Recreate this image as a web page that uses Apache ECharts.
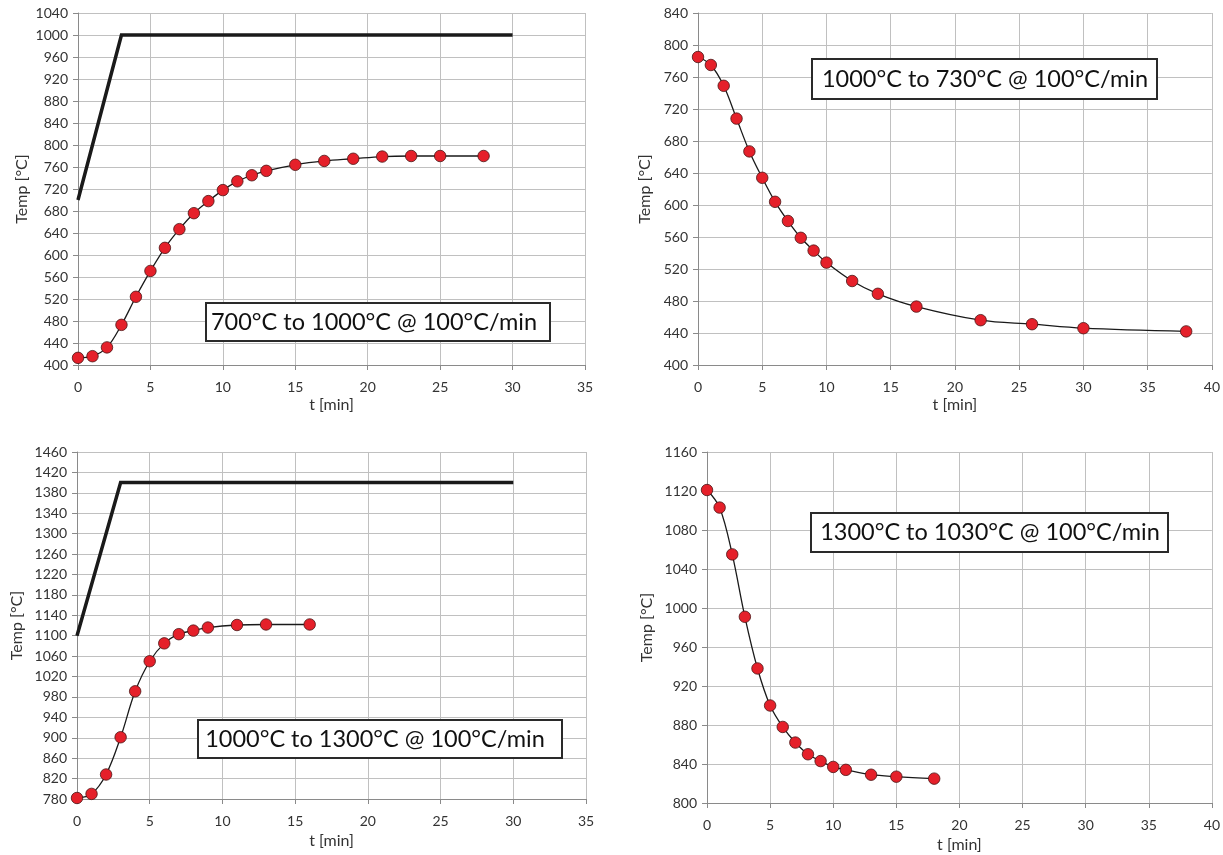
<!DOCTYPE html>
<html>
<head>
<meta charset="utf-8">
<script src="https://cdn.jsdelivr.net/npm/echarts@6/dist/echarts.min.js"></script>
<style>
  html, body { margin: 0; padding: 0; background: #fff; }
  #chart { width: 1223px; height: 855px; }
</style>
</head>
<body>
<div id="chart"></div>
<script>
// Heating 700 -> 1000 °C
const heatA_time = [0, 1, 2, 3, 4, 5, 6, 7, 8, 9, 10, 11, 12, 13, 15, 17, 19, 21, 23, 25, 28];
const heatA_temp = [413, 416, 432, 473, 524, 571, 613, 647, 676, 698, 718, 734, 745, 753, 764, 771, 775, 779, 780, 780, 780];
const heatA_setTime = [0, 3, 30];
const heatA_setTemp = [700, 1000, 1000];

// Cooling 1000 -> 730 °C
const coolA_time = [0, 1, 2, 3, 4, 5, 6, 7, 8, 9, 10, 12, 14, 17, 22, 26, 30, 38];
const coolA_temp = [785, 775, 749, 708, 667, 634, 604, 580, 559, 543, 528, 505, 489, 473, 456, 451, 446, 442];

// Heating 1000 -> 1300 °C
const heatB_time = [0, 1, 2, 3, 4, 5, 6, 7, 8, 9, 11, 13, 16];
const heatB_temp = [782, 790, 828, 901, 991, 1050, 1085, 1103, 1110, 1116, 1121, 1122, 1122];
const heatB_setTime = [0, 3, 30];
const heatB_setTemp = [1100, 1400, 1400];

// Cooling 1300 -> 1030 °C
const coolB_time = [0, 1, 2, 3, 4, 5, 6, 7, 8, 9, 10, 11, 13, 15, 18];
const coolB_temp = [1121, 1103, 1055, 991, 938, 900, 878, 862, 850, 843, 837, 834, 829, 827, 825];

// Axis ranges
const yRanges = [[400, 1040], [400, 840], [780, 1460], [800, 1160]];
const xRanges = [[0, 35], [0, 40], [0, 35], [0, 40]];
const yStep = 40;
const xStep = 5;

const labels = [
  '700°C to 1000°C @ 100°C/min',
  '1000°C to 730°C @ 100°C/min',
  '1000°C to 1300°C @ 100°C/min',
  '1300°C to 1030°C @ 100°C/min'
];

const FONT = 'Lato, "Open Sans", sans-serif';
const pairs = (xs, ys) => xs.map((x, i) => [x, ys[i]]);
const plain = v => String(v);

const grids = [
  { left: 78,  top: 13,  width: 507, height: 352 },
  { left: 698, top: 13,  width: 515, height: 352 },
  { left: 77,  top: 452, width: 509, height: 347 },
  { left: 707, top: 452, width: 505, height: 351 }
];
const yNameGap = [48, 45, 52, 52];
const xNameGap = [32, 32, 34, 34];

const axisLineStyle = { color: '#8a8a8a', width: 1 };
const gridLineStyle = { color: '#c0c0c0', width: 1 };

const xAxes = xRanges.map((r, i) => ({
  type: 'value', gridIndex: i, min: r[0], max: r[1], interval: xStep,
  name: 't [min]', nameLocation: 'middle', nameGap: xNameGap[i],
  nameTextStyle: { fontFamily: FONT, fontSize: 16, color: '#333' },
  axisLine: { show: true, onZero: false, lineStyle: axisLineStyle },
  axisTick: { show: true, length: 5, lineStyle: axisLineStyle },
  axisLabel: { fontFamily: FONT, fontSize: 14, color: '#333', margin: 15, formatter: plain },
  splitLine: { show: true, lineStyle: gridLineStyle }
}));

const yAxes = yRanges.map((r, i) => ({
  type: 'value', gridIndex: i, min: r[0], max: r[1], interval: yStep,
  name: 'Temp [°C]', nameLocation: 'middle', nameGap: yNameGap[i], nameRotate: 90,
  nameTextStyle: { fontFamily: FONT, fontSize: 16, color: '#333' },
  axisLine: { show: true, onZero: false, lineStyle: axisLineStyle },
  axisTick: { show: true, length: 5, lineStyle: axisLineStyle },
  axisLabel: { fontFamily: FONT, fontSize: 14, color: '#333', margin: 10, formatter: plain },
  splitLine: { show: true, lineStyle: gridLineStyle }
}));

function measured(i, xs, ys) {
  return {
    type: 'line', xAxisIndex: i, yAxisIndex: i,
    data: pairs(xs, ys), smooth: 0.35,
    symbol: 'circle', symbolSize: 11.5,
    lineStyle: { color: '#1a1a1a', width: 1.3 },
    itemStyle: { color: '#e5202a', borderColor: '#4a1414', borderWidth: 0.8 },
    z: 3, animation: false
  };
}
function setpoint(i, xs, ys) {
  return {
    type: 'line', xAxisIndex: i, yAxisIndex: i,
    data: pairs(xs, ys), showSymbol: false, symbol: 'none',
    lineStyle: { color: '#1a1a1a', width: 3.5, cap: 'butt', join: 'miter' },
    z: 2, animation: false
  };
}

// Caption boxes
const boxes = [
  { x: 206, y: 303, w: 344, h: 38, tx: 374 },
  { x: 812, y: 59,  w: 345, h: 40, tx: 985 },
  { x: 198, y: 720, w: 364, h: 38, tx: 375 },
  { x: 811, y: 513, w: 357, h: 39, tx: 990 }
];
const graphic = [];
boxes.forEach((b, i) => {
  graphic.push({
    type: 'rect', z: 100,
    shape: { x: b.x, y: b.y, width: b.w, height: b.h },
    style: { fill: '#fff', stroke: '#2a2a2a', lineWidth: 2 }
  });
  graphic.push({
    type: 'text', z: 101, x: b.tx, y: b.y + b.h / 2,
    style: {
      text: labels[i], fill: '#111', font: '23.5px ' + FONT,
      textAlign: 'center', textVerticalAlign: 'middle'
    }
  });
});

const chart = echarts.init(document.getElementById('chart'), null, { renderer: 'canvas' });
chart.setOption({
  animation: false,
  backgroundColor: '#fff',
  grid: grids,
  xAxis: xAxes,
  yAxis: yAxes,
  series: [
    setpoint(0, heatA_setTime, heatA_setTemp),
    measured(0, heatA_time, heatA_temp),
    measured(1, coolA_time, coolA_temp),
    setpoint(2, heatB_setTime, heatB_setTemp),
    measured(2, heatB_time, heatB_temp),
    measured(3, coolB_time, coolB_temp)
  ],
  graphic: graphic
});
</script>
</body>
</html>
